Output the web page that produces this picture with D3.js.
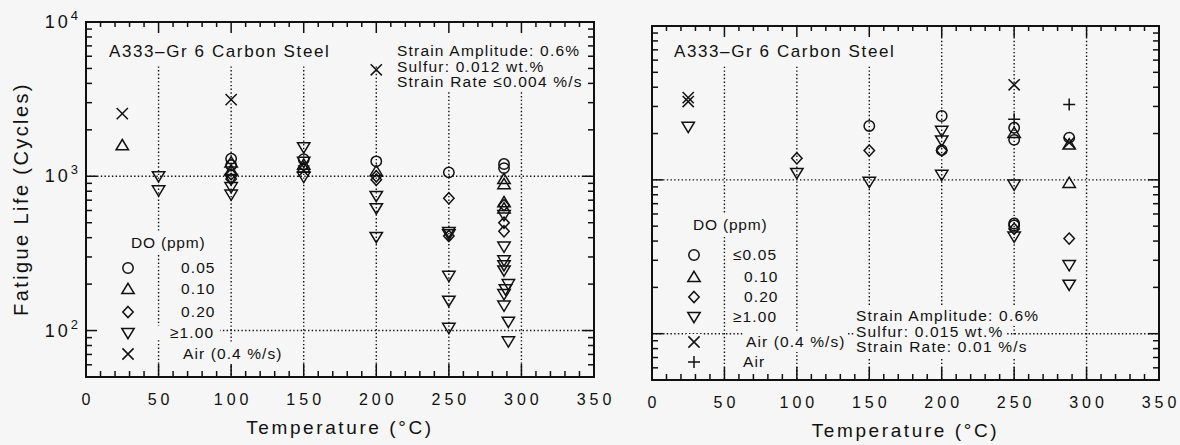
<!DOCTYPE html>
<html>
<head>
<meta charset="utf-8">
<script src="https://cdn.jsdelivr.net/npm/d3@7"></script>
<style>
  html, body { margin: 0; padding: 0; background: #f6f6f6; }
  svg { display: block; }
  text { font-family: "Liberation Sans", Arial, Helvetica, sans-serif; fill: #111; }
</style>
</head>
<body>
<svg id="chart" width="1180" height="445"></svg>
<script>
// ---------------- DATA ----------------
const tempTicks = [0, 50, 100, 150, 200, 250, 300, 350];
const gridTemps = [50, 100, 150, 200, 250, 300];
const lifeDecades = [100, 1000, 10000];
const decadeExponents = ["2", "3", "4"];
const gridLives = [100, 1000];

const materialTitle = "A333\u2013Gr 6 Carbon Steel";
const leftConditions = ["Strain Amplitude: 0.6%", "Sulfur: 0.012 wt.%", "Strain Rate \u22640.004 %/s"];
const rightConditions = ["Strain Amplitude: 0.6%", "Sulfur: 0.015 wt.%", "Strain Rate: 0.01 %/s"];
const leftLegendLabels = ["0.05", "0.10", "0.20", "\u22651.00", "Air (0.4 %/s)"];
const rightLegendLabels = ["\u22640.05", "0.10", "0.20", "\u22651.00", "Air (0.4 %/s)", "Air"];

// Left panel (S = 0.012 wt.%) : [temperature degC, fatigue life cycles]
const leftDO005 = [[100,1300],[100,1180],[150,1290],[200,1250],[250,1060],[288,1200],[288,1130]];
const leftDO010 = [[25,1590],[100,1230],[100,1090],[150,1190],[150,1140],[200,1080],[288,960],[288,890],[288,680],[288,620]];
const leftDO020 = [[100,1030],[100,960],[200,1000],[200,950],[250,720],[250,410],[288,650],[288,500],[288,440]];
const leftDO100 = [[50,1000],[50,810],[100,960],[100,850],[100,760],[150,1540],[150,1240],[150,990],
                   [200,745],[200,620],[200,404],[250,435],[250,420],[250,226],[250,156],[250,104],
                   [288,560],[288,350],[288,285],[288,265],[288,245],[291,200],[289,185],[288,172],
                   [288,145],[291,114],[291,85]];
const leftAir04 = [[25,2550],[100,3140],[150,1080],[200,4900]];

// Right panel (S = 0.015 wt.%)
const rightDO005 = [[150,2240],[200,2600],[200,1560],[250,2180],[250,1820],[250,520],[250,505],[288,1880]];
const rightDO010 = [[250,2020],[288,1700],[288,957]];
const rightDO020 = [[100,1380],[150,1550],[200,1550],[250,480],[288,415]];
const rightDO100 = [[25,2210],[100,1108],[150,970],[200,2080],[200,1800],[200,1076],[250,930],[250,427],[288,279],[288,208]];
const rightAir04 = [[25,3230],[25,3420],[250,4150],[288,1745]];
const rightAir = [[250,2480],[288,3090]];

// ---------------- DRAWING ----------------
const svg = d3.select("#chart");
const BG = "#f6f6f6";

// symbol path generators (shape relative to centre)
const shapes = {
  circle: () => { const r = 5.2; return `M${-r},0A${r},${r} 0 1,0 ${r},0A${r},${r} 0 1,0 ${-r},0Z`; },
  up: () => "M0,-5.7L6.2,4.6L-6.2,4.6Z",
  down: () => "M0,5.7L6.2,-4.6L-6.2,-4.6Z",
  diamond: () => "M0,-5.6L5.2,0L0,5.6L-5.2,0Z",
  cross: () => "M-5.6,-5.6L5.6,5.6M-5.6,5.6L5.6,-5.6",
  plus: () => "M-6,0L6,0M0,-6L0,6"
};

function panel(cfg) {
  const x = d3.scaleLinear().domain([0, 350]).range([cfg.x0, cfg.x1]);
  const y = d3.scaleLog().domain([50, 10000]).range([cfg.yb, cfg.yt]);
  const g = svg.append("g");
  const gGrid = g.append("g");
  const gMask = g.append("g");
  const gAxis = g.append("g");
  const gData = g.append("g");
  const gText = g.append("g");

  // grid
  gGrid.selectAll("line.v").data(gridTemps).join("line")
    .attr("x1", d => x(d)).attr("x2", d => x(d))
    .attr("y1", cfg.yt).attr("y2", cfg.yb)
    .attr("stroke", "#111").attr("stroke-width", 1.4).attr("stroke-dasharray", "1.4,2.3");
  gGrid.selectAll("line.h").data(gridLives).join("line")
    .attr("x1", cfg.x0).attr("x2", cfg.x1)
    .attr("y1", d => y(d)).attr("y2", d => y(d))
    .attr("stroke", "#111").attr("stroke-width", 1.4).attr("stroke-dasharray", "1.4,2.3");

  // helper to write text with an opaque box behind it
  function label(tx, ty, str, size, ls, anchor, pad) {
    const t = gText.append("text").attr("x", tx).attr("y", ty)
      .attr("font-size", size).attr("letter-spacing", ls)
      .attr("text-anchor", anchor || "start").text(str);
    const b = t.node().getBBox();
    const p = pad == null ? 2 : pad;
    gMask.append("rect").attr("x", b.x - p).attr("y", b.y - p)
      .attr("width", b.width + 2 * p).attr("height", b.height + 2 * p).attr("fill", BG);
    return t;
  }

  // title & conditions
  label(cfg.titleX, cfg.titleY, materialTitle, 17, 1.6, "start", 4);
  cfg.cond.forEach((s, i) => label(cfg.condX, cfg.condY + i * 15.5, s, 15.5, 1.2, "start", 2));

  // legend
  label(cfg.legHeadX, cfg.legHeadY, "DO (ppm)", 15.5, 0.8, "start", 2);
  cfg.legItems.forEach((it, i) => {
    const sy = cfg.legY[i];
    label(it.lx, sy + 5, it.label, 15.5, 1.1, "start", 2);
    gMask.append("rect").attr("x", cfg.legSymX - 8).attr("y", sy - 8).attr("width", 16).attr("height", 16).attr("fill", BG);
    gText.append("path").attr("transform", `translate(${cfg.legSymX},${sy})`)
      .attr("d", shapes[it.shape]()).attr("fill", "none").attr("stroke", "#111").attr("stroke-width", 1.5);
  });
  if (cfg.extraMask) cfg.extraMask.forEach(r => gMask.append("rect")
      .attr("x", r[0]).attr("y", r[1]).attr("width", r[2]).attr("height", r[3]).attr("fill", BG));

  // frame
  gAxis.append("rect").attr("x", cfg.x0).attr("y", cfg.yt)
    .attr("width", cfg.x1 - cfg.x0).attr("height", cfg.yb - cfg.yt)
    .attr("fill", "none").attr("stroke", "#111").attr("stroke-width", 2);

  // x ticks (bottom & top, inward)
  const minorX = d3.range(0, 351, 10);
  const xt = gAxis.append("g");
  minorX.forEach(v => {
    const major = v % 50 === 0;
    xt.append("line").attr("x1", x(v)).attr("x2", x(v)).attr("y1", cfg.yb).attr("y2", cfg.yb - (major ? 13 : 6))
      .attr("stroke", "#111").attr("stroke-width", 1.5);
    xt.append("line").attr("x1", x(v)).attr("x2", x(v)).attr("y1", cfg.yt).attr("y2", cfg.yt + (major ? 11 : 5))
      .attr("stroke", "#111").attr("stroke-width", 1.5);
  });
  // y ticks (left & right, inward)
  const minorY = [];
  [10, 100, 1000].forEach(dec => d3.range(1, 10).forEach(k => { const v = dec * k; if (v >= 50 && v <= 10000) minorY.push(v); }));
  minorY.push(10000);
  minorY.forEach(v => {
    const major = lifeDecades.includes(v);
    const len = major ? 11 : 6;
    gAxis.append("line").attr("x1", cfg.x0).attr("x2", cfg.x0 + len).attr("y1", y(v)).attr("y2", y(v))
      .attr("stroke", "#111").attr("stroke-width", 1.5);
    gAxis.append("line").attr("x1", cfg.x1).attr("x2", cfg.x1 - len).attr("y1", y(v)).attr("y2", y(v))
      .attr("stroke", "#111").attr("stroke-width", 1.5);
  });

  // x tick labels
  gAxis.selectAll("text.xl").data(tempTicks).join("text")
    .attr("x", d => x(d) + 2).attr("y", cfg.yb + 28)
    .attr("text-anchor", "middle").attr("font-size", 16).attr("letter-spacing", 4)
    .text(d => d);

  // y tick labels
  if (cfg.yLabels) {
    lifeDecades.forEach((v, i) => {
      const t = gAxis.append("text").attr("x", cfg.x0 - 8).attr("y", y(v) + 6)
        .attr("text-anchor", "end").attr("font-size", 18).attr("letter-spacing", 3);
      t.append("tspan").text("10");
      t.append("tspan").attr("dy", -8).attr("font-size", 13).attr("letter-spacing", 0).text(decadeExponents[i]);
    });
  }

  // x axis title
  gAxis.append("text").attr("x", (cfg.x0 + cfg.x1) / 2 + cfg.xTitleShift).attr("y", cfg.yb + 57)
    .attr("text-anchor", "middle").attr("font-size", 19).attr("letter-spacing", 2.6)
    .text("Temperature (\u00B0C)");

  // data
  cfg.series.forEach(s => {
    gData.selectAll(null).data(s.data).join("path")
      .attr("transform", d => `translate(${x(d[0])},${y(d[1])})`)
      .attr("d", shapes[s.shape]())
      .attr("fill", "none").attr("stroke", "#111").attr("stroke-width", 1.5);
  });
}

panel({
  x0: 86, x1: 594, yt: 22, yb: 377, yLabels: true, xTitleShift: 0,
  titleX: 109, titleY: 57, cond: leftConditions, condX: 397, condY: 56,
  legHeadX: 131, legHeadY: 248, legSymX: 128, legY: [268, 289, 312, 333, 354],
  legItems: [
    {shape: "circle", label: leftLegendLabels[0], lx: 181},
    {shape: "up", label: leftLegendLabels[1], lx: 181},
    {shape: "diamond", label: leftLegendLabels[2], lx: 181},
    {shape: "down", label: leftLegendLabels[3], lx: 170},
    {shape: "cross", label: leftLegendLabels[4], lx: 183}
  ],
  extraMask: [[105, 22, 285, 42], [393, 22, 195, 70], [88, 326, 132, 14]],
  series: [
    {shape: "circle", data: leftDO005},
    {shape: "up", data: leftDO010},
    {shape: "diamond", data: leftDO020},
    {shape: "down", data: leftDO100},
    {shape: "cross", data: leftAir04}
  ]
});

panel({
  x0: 652, x1: 1159, yt: 26, yb: 380, yLabels: false, xTitleShift: 0,
  titleX: 674, titleY: 57, cond: rightConditions, condX: 856, condY: 321,
  legHeadX: 693, legHeadY: 230, legSymX: 694, legY: [255, 277, 297, 317, 342, 362],
  legItems: [
    {shape: "circle", label: rightLegendLabels[0], lx: 733},
    {shape: "up", label: rightLegendLabels[1], lx: 744},
    {shape: "diamond", label: rightLegendLabels[2], lx: 744},
    {shape: "down", label: rightLegendLabels[3], lx: 733},
    {shape: "cross", label: rightLegendLabels[4], lx: 746},
    {shape: "plus", label: rightLegendLabels[5], lx: 743}
  ],
  extraMask: [[670, 26, 226, 36]],
  series: [
    {shape: "circle", data: rightDO005},
    {shape: "up", data: rightDO010},
    {shape: "diamond", data: rightDO020},
    {shape: "down", data: rightDO100},
    {shape: "cross", data: rightAir04},
    {shape: "plus", data: rightAir}
  ]
});

// shared y-axis title
svg.append("text").attr("transform", "translate(28,199) rotate(-90)")
  .attr("text-anchor", "middle").attr("font-size", 20).attr("letter-spacing", 2.4)
  .text("Fatigue Life (Cycles)");
</script>
</body>
</html>
